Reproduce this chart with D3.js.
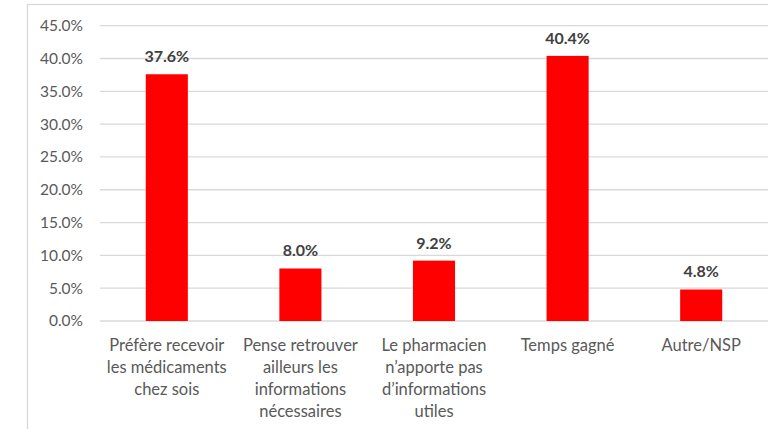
<!DOCTYPE html>
<meta charset="utf-8">
<style>
body { margin: 0; background: #fff; }
.grid line { stroke: #d9d9d9; stroke-width: 1.3px; }
.axis text { fill: #595959; font-family: Lato, "Open Sans", sans-serif; font-size: 15.5px; }
.cat text { fill: #595959; font-family: Lato, "Open Sans", sans-serif; font-size: 16.5px; }
.val { fill: #404040; font-family: Lato, "Open Sans", sans-serif; font-size: 16px; font-weight: bold; }
</style>
<body>
<script src="https://d3js.org/d3.v7.min.js"></script>
<script>

// categories, each split in lines like the original
var categories = ["pref", "pense", "pharm", "temps", "autre"];
var catLines = [
  ["Préfère recevoir", "les médicaments", "chez sois"],
  ["Pense retrouver", "ailleurs les", "informations", "nécessaires"],
  ["Le pharmacien", "n’apporte pas", "d’informations", "utiles"],
  ["Temps gagné"],
  ["Autre/NSP"]
];
var values = [37.6, 8.0, 9.2, 40.4, 4.8];
var yTicks = [0, 5, 10, 15, 20, 25, 30, 35, 40, 45];

var W = 768, H = 429;
var margin = {top: 25.7, left: 100, right: 0, bottom: H - 321};
var width = W - margin.left - margin.right,
    height = H - margin.top - margin.bottom;

var svg = d3.select("body").append("svg")
    .attr("width", W)
    .attr("height", H);

// chart frame (runs off the right and bottom edge)
svg.append("rect")
    .attr("x", 27.5).attr("y", 4.5)
    .attr("width", 800).attr("height", 500)
    .attr("fill", "none")
    .attr("stroke", "#d9d9d9")
    .attr("stroke-width", 1.3);

var g = svg.append("g")
    .attr("transform", "translate(" + margin.left + "," + margin.top + ")");

var x = d3.scaleBand().domain(categories).range([0, width]).paddingInner(0.685).paddingOuter(0.3425);
var y = d3.scaleLinear().domain([0, 45]).range([height, 0]);

// gridlines
g.append("g")
    .attr("class", "grid")
  .selectAll("line")
  .data(yTicks)
  .enter().append("line")
    .attr("x1", 0).attr("x2", width + 10)
    .attr("y1", function(d) { return y(d); })
    .attr("y2", function(d) { return y(d); });

// y axis labels
var yAxis = d3.axisLeft(y)
    .tickValues(yTicks)
    .tickSize(0)
    .tickPadding(17)
    .tickFormat(function(d) { return d.toFixed(1) + "%"; });
g.append("g")
    .attr("class", "axis")
    .call(yAxis)
    .call(function(s) { s.select(".domain").remove(); });

// bars
g.selectAll(".bar")
  .data(values)
  .enter().append("rect")
    .attr("class", "bar")
    .attr("x", function(d, i) { return x(categories[i]); })
    .attr("width", x.bandwidth())
    .attr("y", function(d) { return y(d); })
    .attr("height", function(d) { return height - y(d); })
    .attr("fill", "#ff0000");

// value labels
g.selectAll(".val")
  .data(values)
  .enter().append("text")
    .attr("class", "val")
    .attr("x", function(d, i) { return x(categories[i]) + x.bandwidth() / 2; })
    .attr("y", function(d) { return y(d) - 12; })
    .attr("text-anchor", "middle")
    .text(function(d) { return d.toFixed(1) + "%"; });

// category labels
var cat = g.append("g")
    .attr("class", "cat")
    .attr("transform", "translate(0," + height + ")");
cat.selectAll("text")
  .data(categories)
  .enter().append("text")
    .attr("text-anchor", "middle")
    .attr("x", function(d) { return x(d) + x.bandwidth() / 2; })
    .attr("y", 30)
    .each(function(d, i) {
      var t = d3.select(this);
      catLines[i].forEach(function(line, j) {
        t.append("tspan")
          .attr("x", x(d) + x.bandwidth() / 2)
          .attr("dy", j === 0 ? 0 : 22)
          .text(line);
      });
    });

</script>
</body>
